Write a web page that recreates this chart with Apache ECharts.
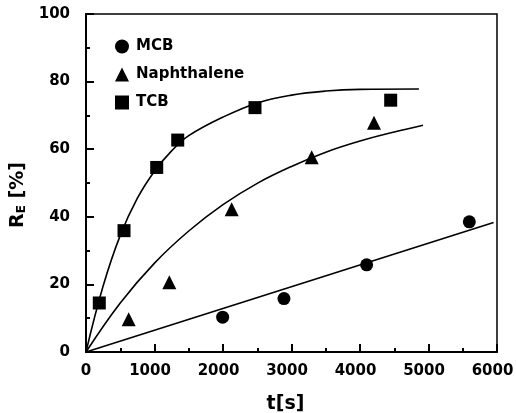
<!DOCTYPE html>
<html>
<head>
<meta charset="utf-8">
<script src="https://cdn.jsdelivr.net/npm/echarts@6/dist/echarts.min.js"></script>
<style>
  html, body { margin: 0; padding: 0; background: #fff; }
  #chart { width: 516px; height: 413px; }
</style>
</head>
<body>
<div id="chart"></div>
<script>
// measured points
const mcbT = [1995, 2890, 4097, 5596]
const mcbR = [10.3, 15.8, 25.8, 38.5]
const napT = [623, 1216, 2127, 3295, 4204]
const napR = [9.7, 20.6, 42.2, 57.6, 67.8]
const tcbT = [194, 555, 1032, 1339, 2467, 4448]
const tcbR = [14.5, 35.9, 54.6, 62.7, 72.3, 74.5]

// fitted curves
const mcbFitT = [0, 5950]
const mcbFitR = [0, 38.3]
const napFitT = [0, 500, 1000, 1500, 2000, 2500, 3000, 3500, 4000, 4500, 4920]
const napFitR = [0, 14.5, 26.3, 35.8, 43.6, 49.9, 54.9, 59.1, 62.4, 65.1, 67.1]
const tcbFitT = [0, 250, 500, 750, 1000, 1250, 1500, 2000, 2500, 3000, 3500, 4000, 4860]
const tcbFitR = [0, 19.5, 34.5, 45.5, 53.5, 59.5, 64, 69.5, 73.7, 76, 77.2, 77.7, 77.8]

const legendNames = ['MCB', 'Naphthalene', 'TCB']

const zip = (a, b) => a.map((v, i) => [v, b[i]])
const font = 'DejaVu Sans'
const txt = { fontFamily: font, fontWeight: 'bold', color: '#000' }

const chart = echarts.init(document.getElementById('chart'))

const pts = (name, t, r, symbol, size) => ({
  name, type: 'scatter', data: zip(t, r), symbol, symbolSize: size,
  itemStyle: { color: '#000', opacity: 1 }, z: 5
})
const fit = (t, r) => ({
  type: 'line', data: zip(t, r), smooth: 0.4, symbol: 'none',
  lineStyle: { color: '#000', width: 1.6 }, z: 3
})

chart.setOption({
  animation: false,
  grid: {
    left: 86, right: 19, top: 14, bottom: 61, outerBoundsMode: 'none',
    show: true, borderColor: '#000', borderWidth: 1.5
  },
  legend: {
    orient: 'vertical', left: 110, top: 34, itemGap: 13, itemWidth: 14, itemHeight: 14,
    data: legendNames, itemStyle: { opacity: 1 },
    textStyle: { ...txt, fontSize: 15, padding: [0, 0, 0, 2] }
  },
  xAxis: {
    type: 'value', min: 0, max: 6000, interval: 1000,
    name: 't[s]', nameLocation: 'middle', nameGap: 43,
    nameTextStyle: { ...txt, fontSize: 19, padding: [0, 12, 0, 0] },
    axisLine: { lineStyle: { color: '#000', width: 2 } },
    axisTick: { inside: true, length: 8, lineStyle: { color: '#000', width: 2 } },
    minorTick: { show: true, splitNumber: 2, length: 4, lineStyle: { color: '#000', width: 2 } },
    axisLabel: {
      margin: 12, ...txt, fontSize: 15,
      formatter: v => v === 0 ? '0' : '{a|' + v + '}',
      rich: { a: { ...txt, fontSize: 15, padding: [0, 9, 0, 0] } }
    },
    splitLine: { show: false }
  },
  yAxis: {
    type: 'value', min: 0, max: 100, interval: 20,
    name: '{r|R}{s|E}{r| [%]}', nameLocation: 'middle', nameGap: 47, nameRotate: 90,
    nameTextStyle: {
      padding: [0, 24, 0, 0],
      rich: {
        r: { ...txt, fontSize: 19 },
        s: { ...txt, fontSize: 12, verticalAlign: 'bottom', padding: [8, 0, 0, 0] }
      }
    },
    axisLine: { lineStyle: { color: '#000', width: 2 } },
    axisTick: { inside: true, length: 8, lineStyle: { color: '#000', width: 2 } },
    minorTick: { show: true, splitNumber: 2, length: 4, lineStyle: { color: '#000', width: 2 } },
    axisLabel: { margin: 16, ...txt, fontSize: 15 },
    splitLine: { show: false }
  },
  series: [
    pts('MCB', mcbT, mcbR, 'circle', 13),
    pts('Naphthalene', napT, napR, 'triangle', 14),
    pts('TCB', tcbT, tcbR, 'rect', 13),
    fit(mcbFitT, mcbFitR),
    fit(napFitT, napFitR),
    fit(tcbFitT, tcbFitR)
  ]
})
</script>
</body>
</html>
